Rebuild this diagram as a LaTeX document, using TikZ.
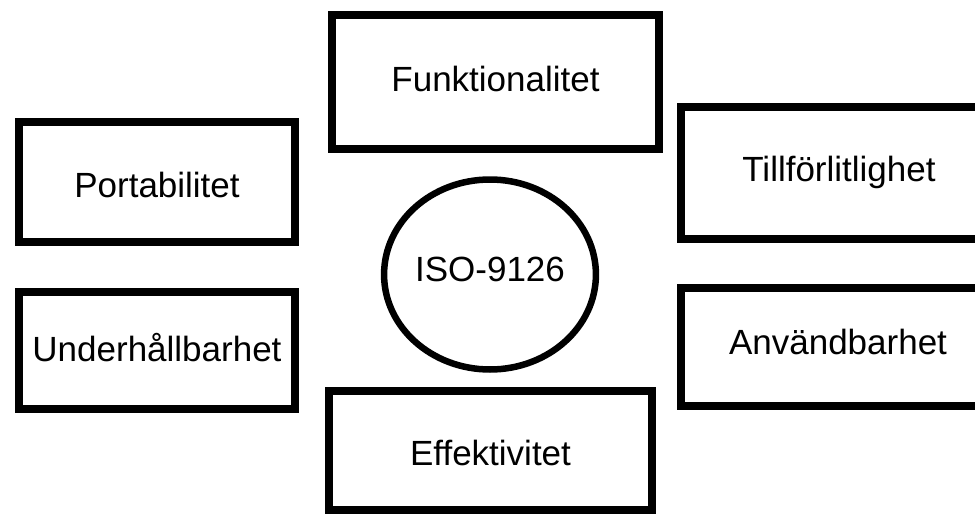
\documentclass[tikz,border=0pt]{standalone}
\usepackage{fontspec}
\setmainfont{Liberation Sans}
\usetikzlibrary{shapes.geometric}

\tikzset{
  qbox/.style={draw, line width=8pt, text height=#1, text depth=0pt},
  qbox/.default=25pt,
  qcirc/.style={draw, ellipse, line width=6.5pt, inner sep=0pt},
}

\begin{document}
\begin{tikzpicture}[x=1pt,y=-1pt,font=\fontsize{35}{42}\selectfont]
\clip (0,0) rectangle (975,514);
% the six characteristics round the standard
\node[qbox=19pt, minimum width=327, minimum height=134] (funk) at (495.5,82) {Funktionalitet};
\node[qbox=31pt, minimum width=276, minimum height=120] (port) at (157,182) {Portabilitet};
\node[qbox=17pt, minimum width=316, minimum height=132] (till) at (839,173) {Tillförlitlighet};
\node[qbox=22pt, minimum width=276, minimum height=117] (und) at (157,350.5) {Underhållbarhet};
\node[qbox=15pt, minimum width=314, minimum height=118] (anv) at (838,347) {Användbarhet};
\node[qbox=30pt, minimum width=323, minimum height=119] (eff) at (490.5,450.5) {Effektivitet};
\node[qcirc, minimum width=199, minimum height=190, text height=14pt, text depth=0pt] (iso) at (490,274.5) {ISO-9126};
\end{tikzpicture}
\end{document}
